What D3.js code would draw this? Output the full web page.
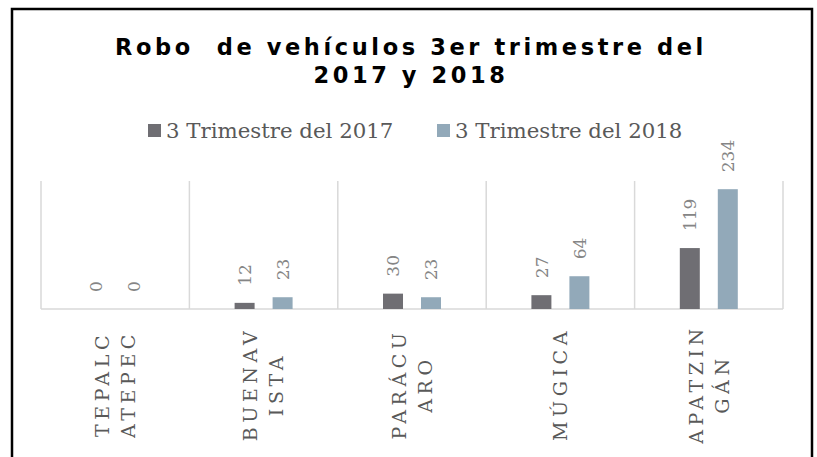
<!DOCTYPE html>
<html>
<head>
<meta charset="utf-8">
<script src="https://cdn.jsdelivr.net/npm/d3@7/dist/d3.min.js"></script>
<style>
  body { margin: 0; background: #fff; }
  svg { display: block; }
</style>
</head>
<body>
<svg id="chart" width="817" height="457"></svg>
<script>
(function () {
  'use strict';

  // data
  var categories = ['TEPALCATEPEC', 'BUENAVISTA', 'PARÁCUARO', 'MÚGICA', 'APATZINGÁN'];
  // how the axis labels wrap in the original
  var categoryLines = [['TEPALC', 'ATEPEC'], ['BUENAV', 'ISTA'], ['PARÁCU', 'ARO'], ['MÚGICA'], ['APATZIN', 'GÁN']];
  var seriesNames = ['3 Trimestre del 2017', '3 Trimestre del 2018'];
  var values2017 = [0, 12, 30, 27, 119];
  var values2018 = [0, 23, 23, 64, 234];
  var titleLines = ['Robo  de vehículos 3er trimestre del', '2017 y 2018'];

  var colors = ['#6f6e73', '#92a9b9'];
  var serif = '"DejaVu Serif", serif';

  var svg = d3.select('#chart');

  // chart frame (bottom edge runs off the picture)
  svg.append('rect')
    .attr('x', 12).attr('y', 9)
    .attr('width', 800).attr('height', 470)
    .attr('fill', '#fff')
    .attr('stroke', '#000')
    .attr('stroke-width', 2.5);

  // title
  svg.append('g').selectAll('text')
    .data(titleLines)
    .enter()
    .append('text')
    .attr('x', 411)
    .attr('y', function(d, i) { return 55 + i * 28; })
    .attr('text-anchor', 'middle')
    .style('white-space', 'pre')
    .style('font-family', '"DejaVu Sans", sans-serif')
    .style('font-weight', 'bold')
    .style('font-size', '22.5px')
    .style('letter-spacing', '3.6px')
    .text(function(d) { return d; });

  // legend
  var legendX = [148, 437];
  var lg = svg.append('g').selectAll('g')
    .data(seriesNames)
    .enter()
    .append('g')
    .attr('transform', function(d, i) { return 'translate(' + legendX[i] + ',0)'; });
  lg.append('rect')
    .attr('y', 124).attr('width', 13).attr('height', 13)
    .attr('fill', function(d, i) { return colors[i]; });
  lg.append('text')
    .attr('x', 18).attr('y', 138)
    .style('font-family', serif)
    .style('font-size', '21.3px')
    .attr('fill', '#595959')
    .text(function(d) { return d; });

  // scales
  var x = d3.scaleBand()
    .domain(categories)
    .range([41, 783]);
  var x1 = d3.scaleBand()
    .domain([0, 1])
    .range([0, x.bandwidth()])
    .paddingInner(0.4737)
    .paddingOuter(1.19);
  var y = d3.scaleLinear()
    .domain([0, 250])
    .range([309, 181]);

  // category gridlines and axis line
  var grid = svg.append('g').attr('stroke', '#d9d9d9').attr('stroke-width', 1.5);
  grid.selectAll('line.v')
    .data(d3.range(categories.length + 1))
    .enter()
    .append('line')
    .attr('class', 'v')
    .attr('x1', function(i) { return i < categories.length ? x(categories[i]) : x.range()[1]; })
    .attr('x2', function(i) { return i < categories.length ? x(categories[i]) : x.range()[1]; })
    .attr('y1', y(250)).attr('y2', y(0));
  grid.append('line')
    .attr('x1', x.range()[0]).attr('x2', x.range()[1])
    .attr('y1', y(0)).attr('y2', y(0));

  var series = [values2017, values2018];
  var rows = [];
  categories.forEach(function(c, ci) {
    series.forEach(function(vals, si) {
      rows.push({cat: c, s: si, v: vals[ci]});
    });
  });

  // bars
  svg.append('g').selectAll('rect')
    .data(rows)
    .enter()
    .append('rect')
    .attr('x', function(d) { return x(d.cat) + x1(d.s); })
    .attr('y', function(d) { return y(d.v); })
    .attr('width', x1.bandwidth())
    .attr('height', function(d) { return y(0) - y(d.v); })
    .attr('fill', function(d) { return colors[d.s]; });

  // value labels, rotated
  svg.append('g').selectAll('text')
    .data(rows)
    .enter()
    .append('text')
    .attr('transform', function(d) {
      var cx = x(d.cat) + x1(d.s) + x1.bandwidth() / 2;
      return 'translate(' + cx + ',' + (y(d.v) - 17) + ') rotate(-90)';
    })
    .attr('dy', '0.36em')
    .style('font-family', serif)
    .style('font-size', '17px')
    .attr('fill', '#858585')
    .text(function(d) { return d.v; });

  // category labels, rotated and wrapped
  var cl = svg.append('g').selectAll('text')
    .data(categories)
    .enter()
    .append('text')
    .attr('transform', function(d) {
      return 'translate(' + (x(d) + x.bandwidth() / 2) + ',384) rotate(-90)';
    })
    .attr('text-anchor', 'middle')
    .style('font-family', serif)
    .style('font-size', '19px')
    .style('letter-spacing', '4.6px')
    .attr('fill', '#595959');
  cl.selectAll('tspan')
    .data(function(d, i) {
      var lines = categoryLines[i];
      return lines.map(function(t, j) { return {t: t, off: (j - (lines.length - 1) / 2) * 26}; });
    })
    .enter()
    .append('tspan')
    .attr('x', 0)
    .attr('y', function(d) { return d.off; })
    .attr('dy', '0.36em')
    .text(function(d) { return d.t; });
}());
</script>
</body>
</html>
